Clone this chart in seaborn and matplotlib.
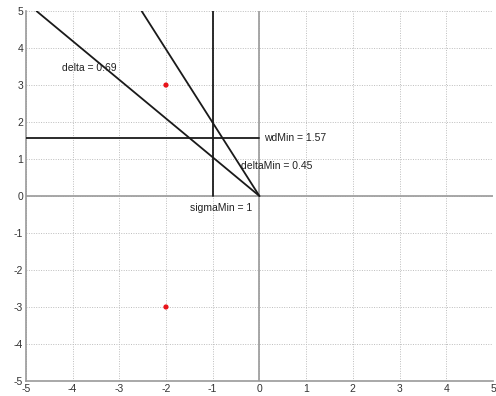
import matplotlib
matplotlib.use("Agg")
import matplotlib.pyplot as plt
import seaborn as sns
import pandas as pd

# values
delta = 0.69
delta_min = 0.45
wd_min = 1.57
sigma_min = 1
pole_re = [-2, -2]
pole_im = [3, -3]
delta_line_x = [0, -4.77]
delta_line_y = [0, 5]
deltamin_line_x = [0, -2.52]
deltamin_line_y = [0, 5]
wd_line_x = [-5, 0]
wd_line_y = [wd_min, wd_min]
sigma_line_x = [-sigma_min, -sigma_min]
sigma_line_y = [0, 5]
ticks = [-5, -4, -3, -2, -1, 0, 1, 2, 3, 4, 5]

sns.set_style("white")
plt.rcParams['font.family'] = ['Liberation Sans', 'DejaVu Sans']
plt.rcParams['axes.unicode_minus'] = False

fig = plt.figure(figsize=(4.96, 3.96), dpi=100)
ax = fig.add_axes([0.052, 0.038, 0.942, 0.934])

ax.grid(True, linestyle=(0, (1, 1.5)), color='#bdbdbd', linewidth=0.7)
ax.axhline(0, color='#a0a0a0', linewidth=1.3, zorder=1)
ax.axvline(0, color='#a0a0a0', linewidth=1.3, zorder=1)

lines = [(delta_line_x, delta_line_y), (deltamin_line_x, deltamin_line_y),
         (wd_line_x, wd_line_y), (sigma_line_x, sigma_line_y)]
for lx, ly in lines:
    df = pd.DataFrame({'x': lx, 'y': ly})
    sns.lineplot(data=df, x='x', y='y', sort=False, estimator=None,
                 color='#1a1a1a', linewidth=1.3, ax=ax, zorder=3)

sns.scatterplot(x=pole_re, y=pole_im, color='#e8141a', s=14, edgecolor='none',
                ax=ax, zorder=4)

fs = 7.5
ax.text(-4.23, 3.46, f"delta = {delta}", fontsize=fs, ha='left', va='center', color='#222222')
ax.text(0.1, wd_min, f"wdMin = {wd_min}", fontsize=fs, ha='left', va='center', color='#222222')
ax.text(-0.4, 0.81, f"deltaMin = {delta_min}", fontsize=fs, ha='left', va='center', color='#222222')
ax.text(-1.49, -0.32, f"sigmaMin = {sigma_min}", fontsize=fs, ha='left', va='center', color='#222222')

ax.set_xlim(-5, 5)
ax.set_ylim(-5, 5)
ax.set_xticks(ticks)
ax.set_yticks(ticks)
ax.set_xlabel('')
ax.set_ylabel('')
ax.tick_params(direction='in', length=3, width=0.8, color='#888888',
               labelsize=7.5, labelcolor='#333333', pad=2)
for s in ['top', 'right']:
    ax.spines[s].set_visible(False)
for s in ['left', 'bottom']:
    ax.spines[s].set_color('#999999')
    ax.spines[s].set_linewidth(1.2)

fig.savefig('out.png', dpi=100)
